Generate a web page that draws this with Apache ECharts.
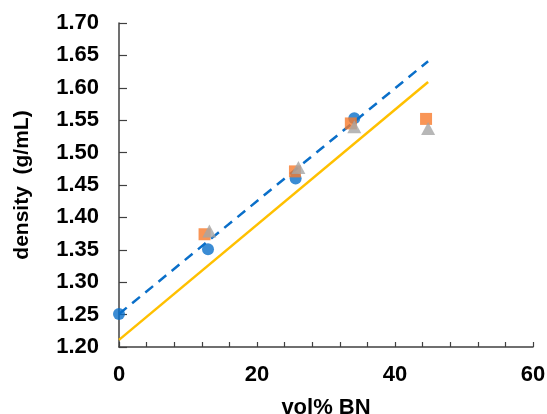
<!DOCTYPE html>
<html>
<head>
<meta charset="utf-8">
<script src="https://cdn.jsdelivr.net/npm/echarts@6/dist/echarts.min.js"></script>
<style>
  html, body { margin: 0; padding: 0; background: #fff; }
  #chart { width: 547px; height: 414px; }
</style>
</head>
<body>
<div id="chart"></div>
<script>
// Measured densities against BN volume fraction
const circleData = [[0, 1.251], [12.9, 1.351], [25.6, 1.460], [34.1, 1.553]];
const squareData = [[12.4, 1.374], [25.5, 1.471], [33.6, 1.545], [44.5, 1.552]];
const triangleData = [[13.1, 1.379], [26.0, 1.477], [34.1, 1.540], [44.8, 1.537]];

// Trend lines (end points)
const dashedFit = [[0, 1.251], [44.8, 1.641]];
const ruleOfMixtures = [[0, 1.211], [44.8, 1.609]];

// Axis settings
const xTicks = { min: 0, max: 60, step: 20 };
const yTicks = { min: 1.2, max: 1.7, step: 0.05 };

const BLUE = '#0a6fc9';
const ORANGE = '#f77b2c';
const GRAY = '#a5a5a5';
const YELLOW = '#ffc000';
const AXIS = '#404040';
const FONT = '"Liberation Sans", Arial, sans-serif';

const chart = echarts.init(document.getElementById('chart'), null, { renderer: 'canvas' });

chart.setOption({
  animation: false,
  backgroundColor: '#fff',
  grid: { left: 119, right: 14, top: 23, bottom: 67, outerBoundsMode: 'none', containLabel: false },
  xAxis: {
    type: 'value',
    min: xTicks.min, max: xTicks.max, interval: xTicks.step,
    name: 'vol% BN',
    nameLocation: 'middle',
    nameGap: 50,
    nameTextStyle: { fontFamily: FONT, fontWeight: 'bold', fontSize: 22, color: '#000' },
    axisLine: { show: true, lineStyle: { color: AXIS, width: 1.5 } },
    axisTick: { show: true, inside: true, length: 5, lineStyle: { color: AXIS, width: 1.2 } },
    minorTick: { show: true, splitNumber: 5, length: 5, lineStyle: { color: AXIS, width: 1.2 } },
    axisLabel: { fontFamily: FONT, fontWeight: 'bold', fontSize: 22, color: '#000', margin: 17 },
    splitLine: { show: false },
    minorSplitLine: { show: false }
  },
  yAxis: {
    type: 'value',
    min: yTicks.min, max: yTicks.max, interval: yTicks.step,
    name: 'density  (g/mL)',
    nameLocation: 'middle',
    nameGap: 86,
    nameRotate: 90,
    nameTextStyle: { fontFamily: FONT, fontWeight: 'bold', fontSize: 21, color: '#000' },
    axisLine: { show: true, lineStyle: { color: AXIS, width: 1.5 } },
    axisTick: { show: true, inside: true, length: 8, lineStyle: { color: AXIS, width: 1.2 } },
    axisLabel: {
      fontFamily: FONT, fontWeight: 'bold', fontSize: 22, color: '#000', margin: 20,
      formatter: v => v.toFixed(2)
    },
    splitLine: { show: false }
  },
  series: [
    {
      type: 'line', data: ruleOfMixtures, showSymbol: false, symbol: 'none',
      lineStyle: { color: YELLOW, width: 2.5 }, z: 2
    },
    {
      type: 'line', data: dashedFit, showSymbol: false, symbol: 'none',
      lineStyle: { color: BLUE, width: 2.5, type: [10, 7] }, z: 2
    },
    {
      type: 'scatter', data: circleData, symbol: 'circle', symbolSize: 12,
      itemStyle: { color: BLUE }, z: 3
    },
    {
      type: 'scatter', data: squareData, symbol: 'rect', symbolSize: 12,
      itemStyle: { color: ORANGE }, z: 4
    },
    {
      type: 'scatter', data: triangleData, symbol: 'triangle', symbolSize: [14, 13],
      itemStyle: { color: GRAY }, z: 5
    }
  ]
});
</script>
</body>
</html>
